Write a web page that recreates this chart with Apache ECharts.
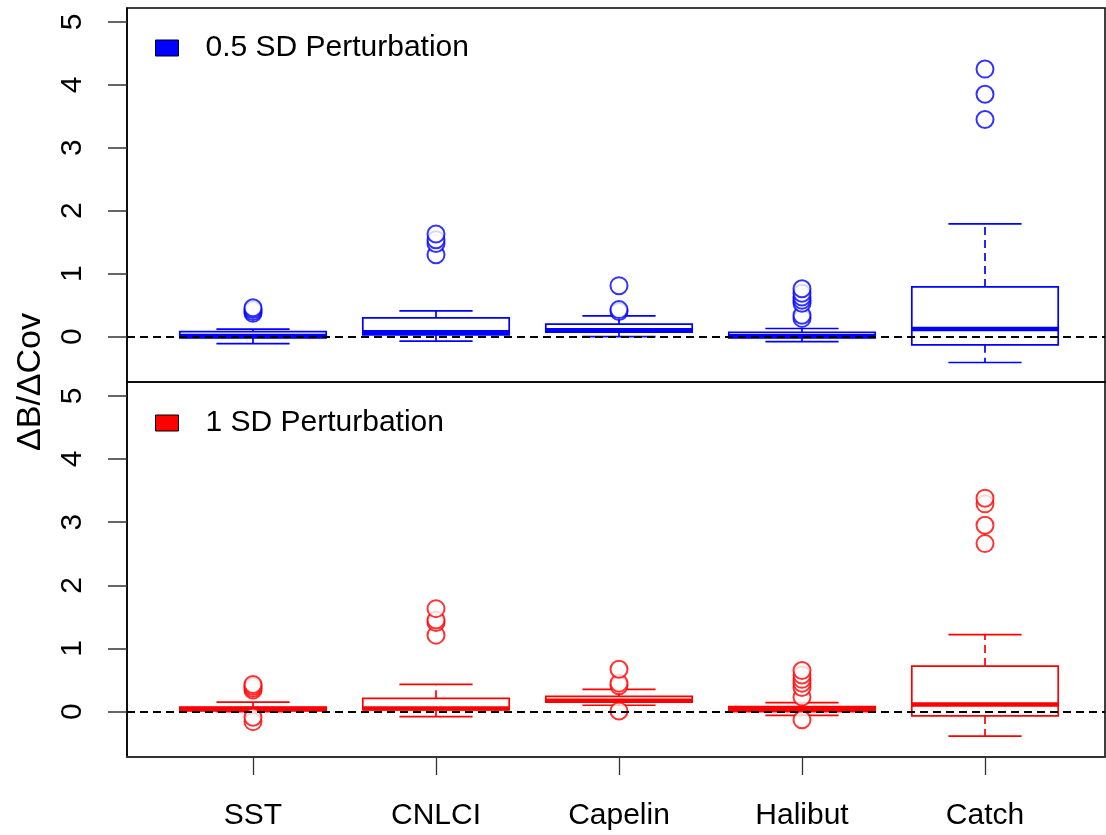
<!DOCTYPE html>
<html>
<head>
<meta charset="utf-8">
<script src="https://cdn.jsdelivr.net/npm/echarts@6/dist/echarts.min.js"></script>
<style>
  html, body { margin: 0; padding: 0; background: #fff; }
  #chart { width: 1106px; height: 835px; }
</style>
</head>
<body>
<div id="chart"></div>
<script>
// Covariate groups along the x axis
const categories = ['SST', 'CNLCI', 'Capelin', 'Halibut', 'Catch'];

// Box summaries per group: [lower whisker, Q1, median, Q3, upper whisker]
const halfSdStats = [
  [-0.11, -0.02, 0.01, 0.08, 0.12],
  [-0.07, 0.03, 0.07, 0.30, 0.41],
  [0.00, 0.07, 0.10, 0.20, 0.33],
  [-0.08, -0.02, 0.01, 0.07, 0.13],
  [-0.41, -0.13, 0.12, 0.79, 1.79]
];
const halfSdOutliers = [
  [0.37, 0.40, 0.43, 0.46],
  [1.30, 1.48, 1.54, 1.63],
  [0.40, 0.43, 0.81],
  [0.29, 0.34, 0.53, 0.58, 0.63, 0.69, 0.76],
  [3.45, 3.85, 4.25]
];

const oneSdStats = [
  [0.00, 0.01, 0.04, 0.07, 0.15],
  [-0.08, 0.03, 0.05, 0.21, 0.43],
  [0.10, 0.15, 0.17, 0.24, 0.35],
  [-0.06, 0.00, 0.04, 0.08, 0.14],
  [-0.39, -0.07, 0.11, 0.72, 1.22]
];
const oneSdOutliers = [
  [-0.16, -0.09, 0.34, 0.37, 0.40, 0.43],
  [1.21, 1.41, 1.45, 1.63],
  [0.01, 0.41, 0.45, 0.67],
  [-0.13, 0.23, 0.38, 0.45, 0.51, 0.58, 0.65],
  [2.66, 2.95, 3.29, 3.38]
];

const yTicks = [0, 1, 2, 3, 4, 5];
const xTicks = [1, 2, 3, 4, 5];
const panelNames = ['0.5 SD Perturbation', '1 SD Perturbation'];

const BLUE = '#0000FF';
const RED = '#FF0000';
const FONT = '"Liberation Sans", Arial, Helvetica, sans-serif';
const BOX_WIDTH = 0.8;

function boxRenderer(color) {
  return function (params, api) {
    const x = api.value(0);
    const yLw = api.coord([x, api.value(1)])[1];
    const yQ1 = api.coord([x, api.value(2)])[1];
    const yMed = api.coord([x, api.value(3)])[1];
    const yQ3 = api.coord([x, api.value(4)])[1];
    const yUw = api.coord([x, api.value(5)])[1];
    const cx = api.coord([x, 0])[0];
    const half = api.size([BOX_WIDTH, 0])[0] / 2;
    const cap = half / 2;
    const thin = { stroke: color, lineWidth: 1.7, fill: null };
    const dashed = { stroke: color, lineWidth: 1.7, lineDash: [8, 5] };
    return {
      type: 'group',
      children: [
        { type: 'line', shape: { x1: cx, y1: yQ3, x2: cx, y2: yUw }, style: dashed },
        { type: 'line', shape: { x1: cx, y1: yQ1, x2: cx, y2: yLw }, style: dashed },
        { type: 'line', shape: { x1: cx - cap, y1: yUw, x2: cx + cap, y2: yUw }, style: thin },
        { type: 'line', shape: { x1: cx - cap, y1: yLw, x2: cx + cap, y2: yLw }, style: thin },
        { type: 'rect', shape: { x: cx - half, y: yQ3, width: 2 * half, height: yQ1 - yQ3 }, style: thin },
        { type: 'line', shape: { x1: cx - half, y1: yMed, x2: cx + half, y2: yMed }, style: { stroke: color, lineWidth: 4.5 } }
      ]
    };
  };
}

function boxData(stats) {
  return stats.map((s, i) => [i + 1].concat(s));
}
function outlierData(outs) {
  const pts = [];
  outs.forEach((list, i) => list.forEach(v => pts.push([i + 1, v])));
  return pts;
}

const xMin = 1 - 126 / 183;
const xMax = 5 + 120 / 183;

function makeXAxis(gridIndex, showLabels) {
  return {
    type: 'value', gridIndex, min: xMin, max: xMax,
    splitLine: { show: false },
    axisLine: { show: showLabels, onZero: false, lineStyle: { color: '#333', width: 2 } },
    axisTick: showLabels
      ? { show: true, customValues: xTicks, length: 18, lineStyle: { color: '#333', width: 1.3 } }
      : { show: false },
    axisLabel: showLabels
      ? { show: true, customValues: xTicks, formatter: v => categories[Math.round(v) - 1] || '',
          fontSize: 30, color: '#000', fontFamily: FONT, margin: 44 }
      : { show: false }
  };
}

function makeYAxis(gridIndex) {
  return {
    type: 'value', gridIndex, min: -0.72, max: 5.22,
    splitLine: { show: false },
    axisLine: { show: true, onZero: false, lineStyle: { color: '#000', width: 1.5 } },
    axisTick: { show: true, customValues: yTicks, length: 19, lineStyle: { color: '#333', width: 1.5 } },
    axisLabel: { show: true, customValues: yTicks, rotate: 90, fontSize: 30, color: '#000',
                 fontFamily: FONT, margin: 39 }
  };
}

function panelSeries(idx, name, color, stats, outs) {
  return [
    {
      name, type: 'custom', xAxisIndex: idx, yAxisIndex: idx, z: 1,
      itemStyle: { color },
      renderItem: boxRenderer(color),
      encode: { x: 0, y: [1, 2, 3, 4, 5] },
      data: boxData(stats)
    },
    {
      name: name + ' outliers', type: 'scatter', xAxisIndex: idx, yAxisIndex: idx, z: 3,
      symbol: 'emptyCircle', symbolSize: 17,
      itemStyle: { color, borderColor: color, borderWidth: 1.8 },
      data: outlierData(outs),
      markLine: {
        silent: true, symbol: ['none', 'none'], label: { show: false },
        lineStyle: { color: '#000', type: [8, 5], width: 1.8 },
        data: [{ yAxis: 0 }]
      }
    }
  ];
}

function makeLegend(name, top) {
  return {
    data: [name], left: 155, top, padding: 0, icon: 'rect',
    itemWidth: 23, itemHeight: 16, selectedMode: false,
    itemStyle: { borderColor: '#000', borderWidth: 1 },
    textStyle: { fontSize: 30, color: '#000', fontFamily: FONT, padding: [0, 0, 0, 22] }
  };
}

const chart = echarts.init(document.getElementById('chart'), null, { renderer: 'canvas' });
chart.setOption({
  animation: false,
  backgroundColor: '#fff',
  grid: [
    { left: 127, right: 1, top: 8, height: 374, show: true, borderColor: '#000', borderWidth: 1.5, backgroundColor: 'transparent' },
    { left: 127, right: 1, top: 382, height: 375, show: true, borderColor: '#000', borderWidth: 1.5, backgroundColor: 'transparent' }
  ],
  xAxis: [makeXAxis(0, false), makeXAxis(1, true)],
  yAxis: [makeYAxis(0), makeYAxis(1)],
  legend: [makeLegend(panelNames[0], 33), makeLegend(panelNames[1], 408)],
  graphic: [{
    type: 'text', x: 31, y: 382, rotation: Math.PI / 2,
    style: { text: 'ΔB/ΔCov', font: '34px ' + FONT, fill: '#000', align: 'center', verticalAlign: 'middle' }
  }],
  series: [].concat(
    panelSeries(0, panelNames[0], BLUE, halfSdStats, halfSdOutliers),
    panelSeries(1, panelNames[1], RED, oneSdStats, oneSdOutliers)
  )
});
</script>
</body>
</html>
